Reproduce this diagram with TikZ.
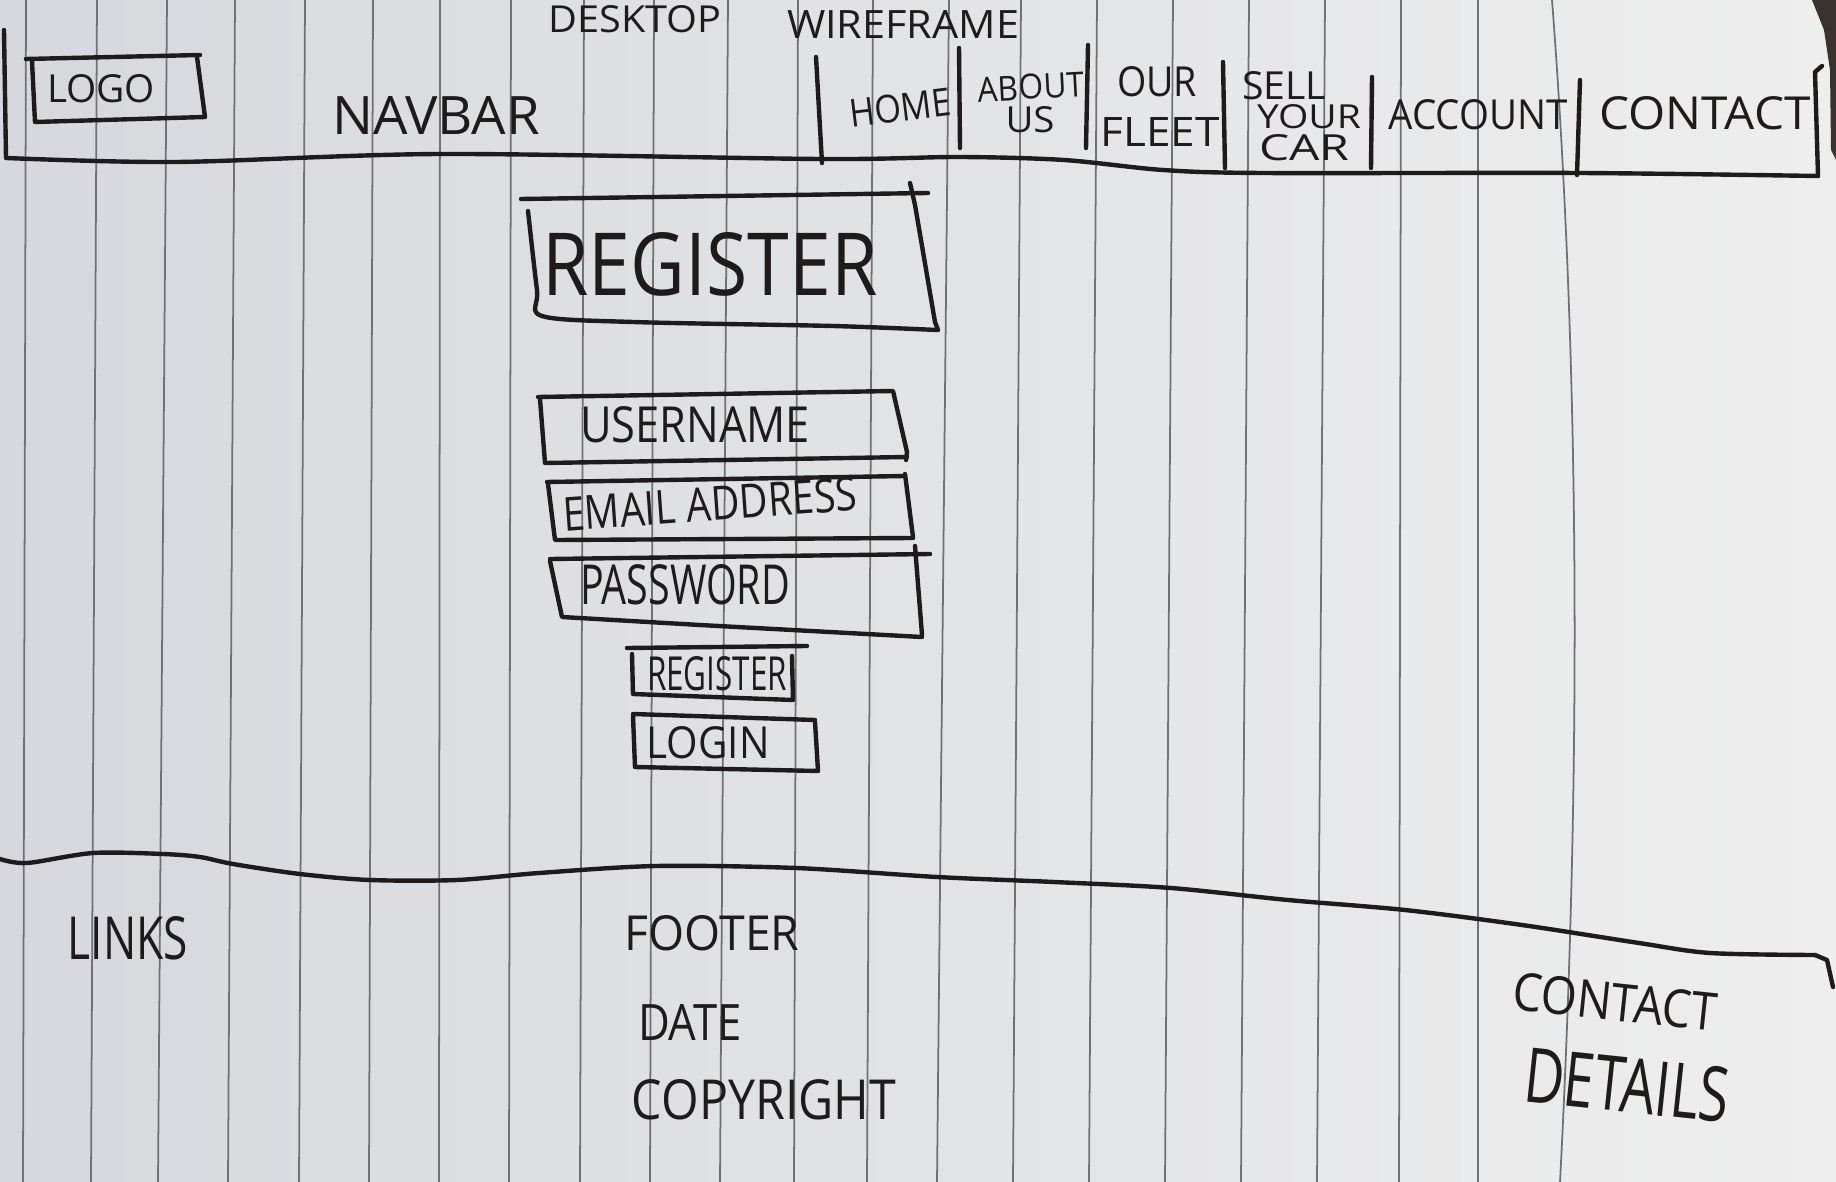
\documentclass[tikz,border=0pt]{standalone}
\usepackage{fontspec}
\setmainfont{Open Sans}
\usepackage{graphicx}
\newlength\upx
\setlength\upx{0.01cm}
\newcommand\hw[3]{\resizebox{#1\upx}{#2\upx}{#3}}
\definecolor{ink}{RGB}{32,27,27}
\definecolor{rule}{RGB}{110,113,118}
\definecolor{paperL}{RGB}{214,216,221}
\definecolor{paperR}{RGB}{238,238,238}
\definecolor{table}{RGB}{58,50,46}
\tikzset{
  txt/.style={inner sep=0pt, text=ink},
  pen/.style={draw=ink, line width=1.25pt, line cap=round, line join=round},
  ruled/.style={draw=rule, line width=0.5pt}
}
\begin{document}
\begin{tikzpicture}[x=0.01cm,y=-0.01cm]
\useasboundingbox (0,0) rectangle (1836,1182);
% paper
\shade[left color=paperL, right color=paperR] (0,0) rectangle (1836,1182);
\fill[table] (1812,0) -- (1836,0) -- (1836,160) -- (1831,150) -- (1830,70) -- (1824,30) -- cycle;
% ruled lines
\foreach \a/\b in {26/23,97/91,167/158,235/228,305/299,373/369,440/439,511/509,584/580,654/650,728/720,798/794,873/867,949/937,1021/1013,1097/1089,1173/1165,1249/1241,1325/1317,1401/1399,1478/1478}
  \draw[ruled] (\a,0) -- (\b,1182);
\draw[ruled] (1552,0) .. controls (1575,300) and (1585,700) .. (1560,1182);

% titles
\node[txt] (tdesk) at (635,19) {\hw{173}{27}{DESKTOP}};
\node[txt] (twire) at (903,25) {\hw{232}{28}{WIREFRAME}};

% navbar outline
\draw[pen] (4,30) -- (6,158)
  plot[smooth, tension=0.5] coordinates {(6,158) (176,162) (440,154) (821,159) (959,157) (1064,160) (1163,170) (1263,173) (1580,173) (1818,176)};
\draw[pen] (1818,176) -- (1815,72) -- (1822,66);
% logo box
\draw[pen] (26,59) -- (200,55);
\draw[pen] (32,61) -- (35,122) -- (205,117) -- (197,57);
\node[txt] (logo) at (101,89) {\hw{108}{28}{LOGO}};
\node[txt] (navbar) at (436,116) {\hw{208}{38}{NAVBAR}};
% dividers
\draw[pen] (816,57) -- (822,163);
\draw[pen] (959,48) -- (960,148);
\draw[pen] (1088,45) -- (1086,148);
\draw[pen] (1223,62) -- (1225,168);
\draw[pen] (1372,77) -- (1371,168);
\draw[pen] (1580,80) -- (1577,175);
% menu items
\node[txt, rotate=7] (home) at (900,108) {\hw{102}{28}{HOME}};
\node[txt, rotate=3] (about) at (1031,87) {\hw{106}{25}{ABOUT}};
\node[txt] (aboutus) at (1030,120) {\hw{49}{26}{US}};
\node[txt] (our) at (1157,82) {\hw{80}{30}{OUR}};
\node[txt] (fleet) at (1160,132) {\hw{119}{29}{FLEET}};
\node[txt] (sell) at (1284,86) {\hw{84}{28}{SELL}};
\node[txt] (your) at (1309,117) {\hw{104}{24}{YOUR}};
\node[txt] (car) at (1304,148) {\hw{90}{26}{CAR}};
\node[txt] (account) at (1478,115) {\hw{179}{30}{ACCOUNT}};
\node[txt] (contact) at (1705,113) {\hw{211}{33}{CONTACT}};

% register heading box
\draw[pen] (521,199) -- (928,193);
\draw[pen] (910,183) -- (915,205) -- (935,322) -- (938,330);
\draw[pen] plot[smooth, tension=0.5] coordinates {(528,211) (537,290) (542,316) (633,322) (833,326) (937,330)};
\node[txt] (regtitle) at (710,264) {\hw{335}{63}{REGISTER}};

% username
\draw[pen] (538,397) -- (893,391) -- (907,452) -- (906,460);
\draw[pen] (540,399) -- (545,463) -- (907,457);
\node[txt] (username) at (695,425) {\hw{230}{36}{USERNAME}};
% email
\draw[pen] (547,482) -- (905,476);
\draw[pen] (905,474) -- (913,537);
\draw[pen] (548,484) -- (555,540) -- (913,538);
\node[txt, rotate=4] (email) at (710,504) {\hw{295}{34}{EMAIL ADDRESS}};
% password
\draw[pen] (550,559) -- (930,554);
\draw[pen] (915,546) -- (922,635);
\draw[pen] (550,561) -- (562,617) -- (700,625) -- (922,637);
\node[txt] (password) at (685,585) {\hw{210}{40}{PASSWORD}};
% register button
\draw[pen] (627,648) -- (807,646);
\draw[pen] (632,654) -- (633,694) -- (793,700) -- (792,656);
\node[txt] (regbtn) at (717,674) {\hw{140}{34}{REGISTER}};
% login button
\draw[pen] (633,714) -- (815,720);
\draw[pen] (633,716) -- (635,767) -- (818,771) -- (815,722);
\node[txt] (loginbtn) at (708,743) {\hw{123}{32}{LOGIN}};

% footer line
\draw[pen] plot[smooth, tension=0.5] coordinates {(0,859) (27,863) (93,853) (163,854) (200,857) (233,864) (300,874) (370,880) (457,880) (539,873) (656,866) (796,868) (937,877) (1054,882) (1171,888) (1288,900) (1405,910) (1522,925) (1639,943) (1710,953) (1815,955)};
\draw[pen] (1815,955) -- (1827,960) -- (1833,987);

% footer texts
\node[txt] (links) at (128,938) {\hw{120}{43}{LINKS}};
\node[txt] (footer) at (712,933) {\hw{175}{35}{FOOTER}};
\node[txt] (date) at (690,1022) {\hw{104}{36}{DATE}};
\node[txt] (copyright) at (764,1100) {\hw{264}{40}{COPYRIGHT}};
\node[txt, rotate=-6] (contactd) at (1615,1002) {\hw{205}{38}{CONTACT}};
\node[txt, rotate=-6] (details) at (1627,1085) {\hw{205}{55}{DETAILS}};
\end{tikzpicture}
\end{document}
